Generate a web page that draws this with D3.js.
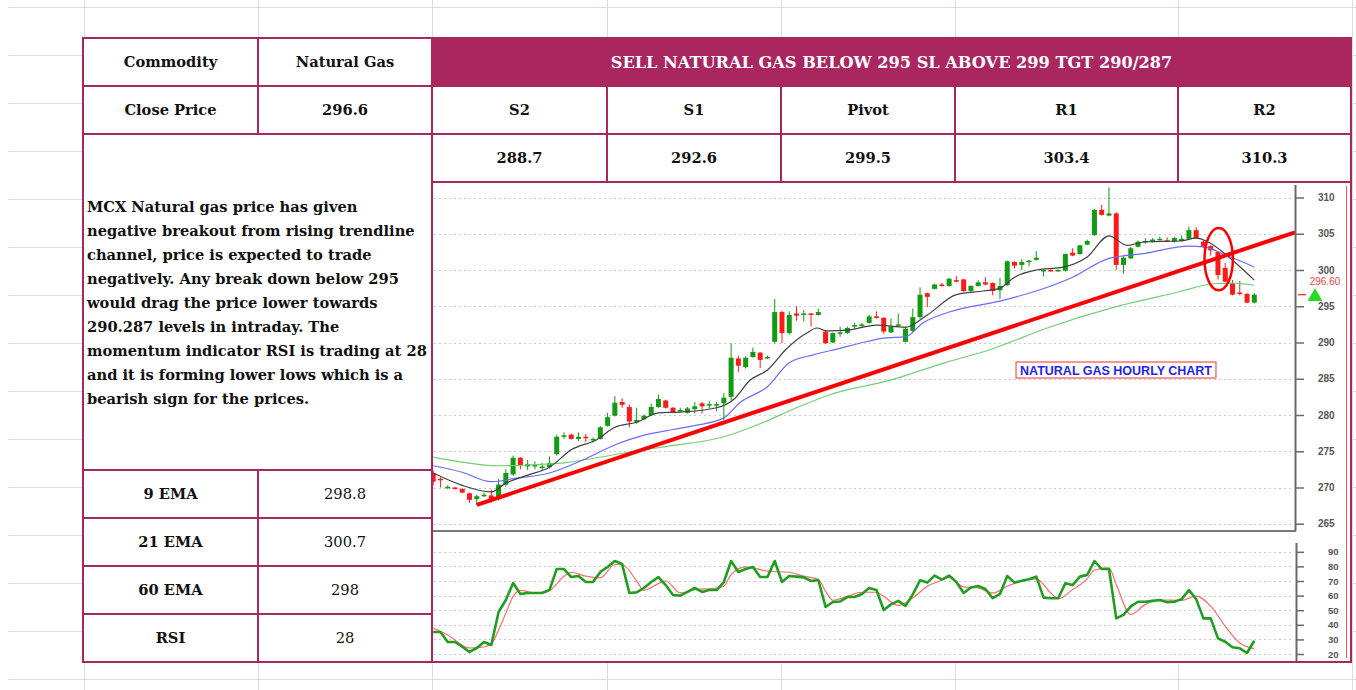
<!DOCTYPE html>
<html>
<head>
<meta charset="utf-8">
<script src="https://cdn.jsdelivr.net/npm/d3@7/dist/d3.min.js"></script>
<style>
  html, body { margin: 0; padding: 0; background: #fff; }
  svg { display: block; }
</style>
</head>
<body>
<div id="chart"></div>
<script>
/* ── table content ── */
const infoLabels   = ['Commodity', 'Close Price'];
const infoValues   = ['Natural Gas', '296.6'];
const headline     = 'SELL NATURAL GAS BELOW 295 SL ABOVE 299 TGT 290/287';
const levelNames   = ['S2', 'S1', 'Pivot', 'R1', 'R2'];
const levelValues  = ['288.7', '292.6', '299.5', '303.4', '310.3'];
const indicatorNames  = ['9 EMA', '21 EMA', '60 EMA', 'RSI'];
const indicatorValues = ['298.8', '300.7', '298', '28'];
const commentLines = [
  'MCX Natural gas price has given',
  'negative breakout from rising trendline',
  'channel, price is expected to trade',
  'negatively. Any break down below 295',
  'would drag the price lower towards',
  '290.287 levels in intraday. The',
  'momentum indicator RSI is trading at 28',
  'and it is forming lower lows which is a',
  'bearish sign for the prices.'
];

/* ── hourly candles ── */
const opens = [272.0,271.2,269.9,270.0,269.8,269.2,268.4,268.8,268.9,268.6,
  270.4,271.8,274.1,272.9,272.9,272.8,272.8,274.6,277.0,277.3,
  276.7,277.0,276.6,276.7,278.5,279.9,281.8,281.1,279.0,279.4,
  280.0,281.1,282.0,281.0,280.6,280.3,280.8,281.6,281.4,281.4,
  281.6,282.5,287.8,286.6,288.0,288.6,287.8,290.1,294.2,291.3,
  294.0,293.8,294.0,293.8,291.5,290.0,291.3,291.3,292.2,292.3,
  292.7,293.6,293.4,291.4,292.4,290.1,291.6,293.5,296.8,297.4,
  298.0,297.8,298.6,298.7,297.1,297.8,298.3,298.2,297.2,297.9,
  301.1,300.7,301.2,301.4,299.9,300.0,299.9,299.9,302.4,302.2,
  303.5,304.8,308.3,307.5,307.8,300.7,301.6,303.2,303.9,303.9,
  304.2,304.1,303.9,304.0,304.3,305.5,303.9,303.3,302.5,300.3,
  298.2,296.9,296.7,295.5];
const highs = [272.3,271.4,270.3,270.1,269.9,269.3,269.0,269.3,269.7,271.2,
  272.5,274.4,274.2,273.8,273.6,273.4,274.3,277.3,277.6,277.4,
  277.6,277.4,276.9,278.5,280.3,282.6,282.3,281.4,281.0,280.1,
  281.6,282.8,282.1,281.1,281.0,281.1,281.8,281.8,281.9,281.8,
  283.0,289.9,288.2,288.1,289.3,288.7,288.2,296.0,294.4,294.3,
  295.0,294.5,294.1,294.7,291.6,291.4,292.2,292.2,292.7,292.7,
  293.8,294.3,293.5,293.3,294.0,292.2,294.7,297.6,296.9,298.1,
  298.2,298.9,299.2,298.8,297.9,298.6,299.0,298.3,298.9,301.3,
  301.2,301.5,301.4,302.6,300.1,300.1,300.1,302.3,303.0,303.5,
  304.2,308.4,309.0,311.4,308.0,301.9,303.2,304.1,304.4,304.4,
  304.6,304.5,304.6,304.8,306.0,305.9,304.0,303.4,302.6,301.0,
  298.6,298.5,296.8,296.8];
const lows = [270.3,270.0,269.8,269.7,269.2,267.9,267.6,268.7,267.9,268.2,
  270.1,271.6,272.5,272.4,272.5,272.4,272.6,274.4,276.7,276.6,
  276.4,276.3,276.2,276.6,278.4,279.8,281.0,278.3,278.8,279.3,
  279.9,281.0,280.9,280.3,280.4,280.2,280.2,280.2,280.9,280.5,
  279.3,282.0,285.9,286.4,287.9,286.5,287.7,289.9,289.9,291.1,
  293.0,292.9,292.2,293.7,289.8,289.9,290.8,291.2,291.9,292.0,
  292.6,293.3,291.2,291.3,292.2,290.0,291.4,293.3,294.9,297.3,
  297.7,297.7,298.3,297.0,297.0,297.7,297.9,296.5,296.0,297.8,
  300.2,300.0,300.5,301.3,299.1,299.8,299.8,299.8,301.9,302.1,
  303.4,304.7,307.5,307.4,300.0,299.5,301.5,303.1,303.6,303.8,
  304.1,303.9,303.8,303.9,304.2,304.3,303.0,302.0,298.7,298.3,
  296.5,296.5,295.4,295.4];
const closes = [270.8,271.0,270.1,269.8,269.3,268.3,268.8,269.0,268.4,270.4,
  272.0,274.1,273.1,273.2,273.1,272.9,273.4,277.0,277.2,276.7,
  277.0,276.8,276.7,278.3,279.7,281.7,281.4,279.1,279.3,279.9,
  281.1,282.2,281.0,280.4,280.7,280.9,281.2,281.2,281.5,281.5,
  282.4,287.9,286.8,287.9,288.7,287.6,288.0,294.2,291.3,293.8,
  293.7,294.0,293.8,294.2,289.9,291.3,291.4,292.0,292.4,292.5,
  293.6,293.4,291.5,292.2,292.5,291.9,293.5,296.6,296.3,298.0,
  297.8,298.8,298.4,297.1,297.8,298.3,298.0,297.1,297.8,301.2,
  300.6,301.1,301.3,301.7,300.0,299.9,300.0,302.2,302.0,303.4,
  304.0,308.3,307.6,307.8,300.7,301.7,303.0,303.9,304.0,304.2,
  304.3,304.0,304.4,304.3,305.5,304.4,303.2,302.7,299.3,298.4,
  296.6,296.7,295.5,296.6];
const lastPrice = 296.60;

/* moving averages: [bar index, value] */
const ema9 = [[0,272.0],[4,270.3],[8,269.4],[10,270.6],[13,271.7],[16,272.8],[19,275.2],
  [22.5,276.6],[25,278.3],[28,279.0],[31,280.3],[34,280.4],[39,281.0],[41.3,282.1],
  [43.6,284.8],[46,286.2],[48.7,289.2],[51.4,291.3],[52.8,292.0],[54.2,291.6],[57,291.7],
  [61,292.4],[65,292.1],[68,293.8],[72,296.6],[75.7,297.1],[78,297.5],[80,299.0],[83,300.0],
  [86.7,300.4],[90,301.8],[93,304.7],[95.5,303.4],[98,303.9],[102.8,304.0],[105,304.4],
  [106.6,303.9],[109.6,301.7],[113,298.6]];
const ema21 = [[0,273.0],[4,272.1],[8,270.8],[11.5,271.3],[16,272.0],[20.6,273.8],[25.3,276.0],
  [28.9,277.2],[33,278.0],[36.3,278.6],[40,279.6],[42.2,281.7],[46,283.9],[49,287.2],
  [52.3,288.3],[56,289.2],[58.7,289.9],[62,290.6],[65,290.8],[67.4,292.7],[71,294.2],
  [78.4,295.8],[83,297.1],[88,299.0],[93,301.6],[98,302.3],[104,303.3],[106,303.2],
  [109,302.1],[113,300.4]];
const ema60 = [[0,274.2],[4,273.5],[8.8,273.0],[13.3,273.1],[18,273.4],[22.5,274.1],[27,274.9],
  [31.7,275.6],[40,277.0],[45.5,279.0],[50,281.0],[54.6,282.8],[62.9,284.8],[70.7,287.3],
  [76.6,289.0],[84.5,292.0],[93.5,294.8],[102.7,297.0],[107.3,298.1],[110,298.2],[113,297.9]];
const trendLine = [[6,267.6],[118.6,305.2]];
const breakZone = {i: 108.1, price: 301.5, di: 1.95, dp: 4.3};

/* RSI per bar and its signal line */
const rsi = [35.1,35.1,28.2,28.2,25.0,21.4,24.1,28.2,26.2,48.8,
  57.0,68.6,61.1,61.8,61.8,61.8,63.8,78.2,78.2,72.7,
  73.4,69.3,69.3,76.2,79.6,83.7,81.6,61.8,62.2,65.2,
  69.3,72.7,67.2,60.4,60.0,62.5,65.2,62.5,63.8,63.8,
  69.3,83.7,76.2,78.2,79.6,72.7,72.7,83.7,69.3,73.4,
  73.0,72.5,70.0,70.7,52.2,55.6,56.0,59.0,59.0,61.1,
  65.2,63.8,50.1,54.0,56.4,52.9,60.8,70.5,68.9,73.7,
  71.0,73.7,69.3,61.8,65.6,66.6,64.5,58.2,61.1,73.4,
  68.9,70.1,71.2,73.0,58.6,58.2,58.2,68.4,67.2,73.0,
  74.2,83.7,78.2,78.2,44.4,46.8,52.6,55.8,55.8,56.4,
  57.0,55.4,55.8,57.6,63.8,57.6,44.4,44.4,30.7,28.4,
  24.6,23.9,20.7,29.1];
const rsiSignal = [[0,37.8],[2,33],[5,24.1],[7,24.8],[8,27],[9,36.5],[10,48],[11,59.5],[12,63.6],
  [14,61.8],[16,63.6],[18,73.3],[19,76],[21,73.3],[23,72.2],[25,81.3],[26,81.3],[28,70],
  [29,63.6],[31,68.2],[32,70],[34,61.8],[36,64.1],[39,65.2],[40,66.4],[41,74.4],[43,79.7],
  [44,79],[46,76.7],[49,76],[51,73.3],[53,71],[54,63],[55,56.8],[57,59.5],[59,62.3],[61,62.3],
  [62,59.5],[64,53.3],[66,58.4],[68,66.4],[70,70.5],[71,72.5],[72,69],[73,66],[75,65.2],
  [77,61.8],[79,66.4],[81,70],[83,71.5],[85,61.8],[86,57.8],[88,64.1],[90,71.5],[91,77.5],
  [93,79],[94,67.6],[96,47],[98,54],[100,57],[103,56.7],[105,59.7],[107,52.8],[109,39],
  [111,27.6],[113,23.7]];

const priceTicks = [310,305,300,295,290,285,280,275,270,265];
const rsiTicks   = [90,80,70,60,50,40,30,20];
const chartLabel = 'NATURAL GAS HOURLY CHART';

/* ── layout ── */
const W = 1356, H = 690;
const MAG = '#a9265f';
const GREEN = '#129a12', RED = '#ff1a1a';
const SERIF = '"DejaVu Serif", serif';
const SANS  = '"Liberation Sans", Arial, sans-serif';
const sheetCols = [84, 258, 432, 607, 781, 955, 1178, 1352];
const sheetRows = d3.range(7, H, 48);
const colX = [83, 258, 432, 607, 781, 955, 1178, 1351];
const rowY = [38, 86, 134, 182];
const lowRowY = [470, 518, 566, 614, 662];
const P = {left: 432, right: 1295, top: 183, bottom: 531};
const R = {top: 533, bottom: 661};

const svg = d3.select('#chart').append('svg').attr('width', W).attr('height', H);
svg.append('rect').attr('width', W).attr('height', H).attr('fill', '#fff');

// faint spreadsheet grid
const sheet = svg.append('g').attr('stroke', '#d8dce5').attr('stroke-width', 1);
sheetRows.forEach(y => sheet.append('line').attr('x1', 8).attr('x2', W).attr('y1', y + .5).attr('y2', y + .5));
sheetCols.forEach(x => sheet.append('line').attr('x1', x + .5).attr('x2', x + .5).attr('y1', 0).attr('y2', H));

svg.append('rect').attr('x', colX[0]).attr('y', rowY[0])
   .attr('width', colX[7] - colX[0]).attr('height', 662 - rowY[0]).attr('fill', '#fff');

/* ── scales ── */
const x = d3.scaleLinear().domain([-0.3, 118.6]).range([431, 1295]);
const yP = d3.scaleLinear().domain([265, 310]).range([523.75, 197.5]);
const yR = d3.scaleLinear().domain([20, 90]).range([654, 551.8]);
const bw = 5;

const defs = svg.append('defs');
defs.append('clipPath').attr('id', 'clipP').append('rect')
    .attr('x', P.left + 1).attr('y', P.top).attr('width', P.right - P.left - 1).attr('height', P.bottom - P.top);
defs.append('clipPath').attr('id', 'clipR').append('rect')
    .attr('x', P.left + 1).attr('y', R.top).attr('width', P.right - P.left - 1).attr('height', R.bottom - R.top);

/* ── price pane ── */
svg.append('g').selectAll('line').data(priceTicks).join('line')
   .attr('x1', P.left + 2).attr('x2', P.right - 3)
   .attr('y1', d => Math.round(yP(d)) + .5).attr('y2', d => Math.round(yP(d)) + .5)
   .attr('stroke', '#c9c9c9').attr('stroke-dasharray', '2,3');

const pane = svg.append('g').attr('clip-path', 'url(#clipP)');
const candles = closes.map((c, i) => ({i, o: opens[i], h: highs[i], l: lows[i], c}));
const col = d => d.c >= d.o ? GREEN : RED;

pane.selectAll('line.wick').data(candles).join('line').attr('class', 'wick')
    .attr('x1', d => x(d.i)).attr('x2', d => x(d.i))
    .attr('y1', d => yP(d.h)).attr('y2', d => yP(d.l))
    .attr('stroke', col).attr('stroke-width', 1);
pane.selectAll('rect.body').data(candles).join('rect').attr('class', 'body')
    .attr('x', d => x(d.i) - bw / 2).attr('width', bw)
    .attr('y', d => yP(Math.max(d.o, d.c)))
    .attr('height', d => Math.max(1.5, Math.abs(yP(d.o) - yP(d.c))))
    .attr('fill', col);

const maLine = d3.line().x(d => x(d[0])).y(d => yP(d[1])).curve(d3.curveMonotoneX);
[[ema60, '#74cf74'], [ema21, '#6b6bff'], [ema9, '#404040']].forEach(([data, c]) => {
  pane.append('path').datum(data).attr('d', maLine)
      .attr('fill', 'none').attr('stroke', c).attr('stroke-width', 1.2);
});

pane.append('path').datum(trendLine)
    .attr('d', d3.line().x(d => x(d[0])).y(d => yP(d[1])))
    .attr('stroke', '#ff0000').attr('stroke-width', 4).attr('fill', 'none');

pane.append('ellipse')
    .attr('cx', x(breakZone.i)).attr('cy', yP(breakZone.price))
    .attr('rx', x(breakZone.i + breakZone.di) - x(breakZone.i))
    .attr('ry', yP(breakZone.price - breakZone.dp) - yP(breakZone.price))
    .attr('fill', 'none').attr('stroke', '#ff0000').attr('stroke-width', 2.5);

// chart caption
const cap = svg.append('g').attr('transform', 'translate(1116,370)');
const capText = cap.append('text').attr('text-anchor', 'middle').attr('dy', '0.36em')
    .attr('font-family', SANS).attr('font-weight', 'bold').attr('font-size', 12.5)
    .attr('fill', '#2525f0').text(chartLabel);
const cw = capText.node().getComputedTextLength();
cap.insert('rect', 'text').attr('x', -cw / 2 - 4).attr('y', -8).attr('width', cw + 8).attr('height', 16)
   .attr('fill', '#fff').attr('stroke', '#ff5050').attr('stroke-width', 1.2);

// pane frame + price axis
svg.append('line').attr('x1', P.left).attr('x2', P.right + 1).attr('y1', P.bottom).attr('y2', P.bottom)
   .attr('stroke', '#7a7a7a').attr('stroke-width', 2);
svg.append('line').attr('x1', P.right + .5).attr('x2', P.right + .5).attr('y1', P.top + 2).attr('y2', P.bottom)
   .attr('stroke', '#6a6a6a').attr('stroke-width', 2);

const axP = svg.append('g').attr('transform', `translate(${P.right},0)`)
   .call(d3.axisRight(yP).tickValues(priceTicks).tickSize(9).tickPadding(14));
axP.select('.domain').remove();
axP.selectAll('line').attr('stroke', '#6a6a6a').attr('stroke-width', 1.5);
axP.selectAll('text').attr('font-family', SANS).attr('font-weight', 'bold')
   .attr('font-size', 10).attr('fill', '#555');

// last price marker
svg.append('line').attr('x1', P.right + 3).attr('x2', P.right + 11)
   .attr('y1', yP(lastPrice)).attr('y2', yP(lastPrice)).attr('stroke', '#ff4040').attr('stroke-width', 1.5);
svg.append('text').attr('x', 1325).attr('y', yP(lastPrice) - 10).attr('text-anchor', 'middle')
   .attr('font-family', SANS).attr('font-size', 10).attr('fill', '#ff4040').text(lastPrice.toFixed(2));
svg.append('path').attr('d', d3.symbol(d3.symbolTriangle, 95)())
   .attr('transform', `translate(1315,${yP(lastPrice) + 2})`).attr('fill', '#22dd22');

/* ── RSI pane ── */
svg.append('g').selectAll('line').data(rsiTicks).join('line')
   .attr('x1', P.left + 2).attr('x2', P.right - 3)
   .attr('y1', d => Math.round(yR(d)) + .5).attr('y2', d => Math.round(yR(d)) + .5)
   .attr('stroke', '#c9c9c9').attr('stroke-dasharray', '2,3');

const rpane = svg.append('g').attr('clip-path', 'url(#clipR)');
rpane.append('path').datum(rsiSignal)
     .attr('d', d3.line().x(d => x(d[0])).y(d => yR(d[1])).curve(d3.curveMonotoneX))
     .attr('fill', 'none').attr('stroke', '#ff6a6a').attr('stroke-width', 1.2);
rpane.append('path').datum(rsi)
     .attr('d', d3.line().x((d, i) => x(i)).y(d => yR(d)))
     .attr('fill', 'none').attr('stroke', '#1f9e1f').attr('stroke-width', 2.6)
     .attr('stroke-linejoin', 'round');

svg.append('line').attr('x1', P.right + 1.5).attr('x2', P.right + 1.5).attr('y1', 543).attr('y2', R.bottom)
   .attr('stroke', '#6a6a6a').attr('stroke-width', 2);
const axR = svg.append('g').attr('transform', `translate(${P.right + 1},0)`)
   .call(d3.axisRight(yR).tickValues(rsiTicks).tickSize(8).tickPadding(24));
axR.select('.domain').remove();
axR.selectAll('line').attr('stroke', '#6a6a6a').attr('stroke-width', 1.5);
axR.selectAll('text').attr('font-family', SANS).attr('font-weight', 'bold')
   .attr('font-size', 9.5).attr('fill', '#555');

// red marker line at far right
svg.append('line').attr('x1', 1346.5).attr('x2', 1346.5).attr('y1', 186).attr('y2', 658)
   .attr('stroke', '#ff5555').attr('stroke-width', 1);

/* ── table ── */
function fitSize(text, weight, target) {
  const t = svg.append('text').attr('font-family', SERIF).attr('font-weight', weight)
               .attr('font-size', 20).text(text);
  const w = t.node().getComputedTextLength();
  t.remove();
  return 20 * target / w;
}
const bodySize = fitSize(commentLines[1], 'bold', 328);

svg.append('rect').attr('x', colX[2]).attr('y', rowY[0])
   .attr('width', colX[7] - colX[2]).attr('height', rowY[1] - rowY[0]).attr('fill', MAG);
svg.append('text').attr('x', (colX[2] + colX[7]) / 2).attr('y', 62).attr('dy', '0.35em')
   .attr('text-anchor', 'middle').attr('font-family', SERIF).attr('font-weight', 'bold')
   .attr('font-size', fitSize(headline, 'bold', 562)).attr('fill', '#fff').text(headline);

function cell(cx, cy, txt, weight) {
  svg.append('text').attr('x', cx).attr('y', cy).attr('dy', '0.35em').attr('text-anchor', 'middle')
     .attr('font-family', SERIF).attr('font-weight', weight).attr('font-size', bodySize)
     .attr('fill', '#111').text(txt);
}
infoLabels.forEach((t, r) => {
  const cy = (rowY[r] + rowY[r + 1]) / 2;
  cell((colX[0] + colX[1]) / 2, cy, t, 'bold');
  cell((colX[1] + colX[2]) / 2, cy, infoValues[r], 'bold');
});
levelNames.forEach((t, c) => {
  const cx = (colX[c + 2] + colX[c + 3]) / 2;
  cell(cx, (rowY[1] + rowY[2]) / 2, t, 'bold');
  cell(cx, (rowY[2] + rowY[3]) / 2, levelValues[c], 'bold');
});
indicatorNames.forEach((t, r) => {
  const cy = (lowRowY[r] + lowRowY[r + 1]) / 2;
  cell((colX[0] + colX[1]) / 2, cy, t, 'bold');
  cell((colX[1] + colX[2]) / 2, cy, indicatorValues[r], 'normal');
});

const para = svg.append('text').attr('font-family', SERIF).attr('font-weight', 'bold')
   .attr('font-size', bodySize).attr('fill', '#111');
commentLines.forEach((l, i) => para.append('tspan').attr('x', 87).attr('y', 212 + i * 24).text(l));

// table borders
const b = svg.append('g').attr('stroke', MAG).attr('stroke-width', 2).attr('fill', 'none');
const seg = (x1, y1, x2, y2) => b.append('line').attr('x1', x1).attr('y1', y1).attr('x2', x2).attr('y2', y2);
b.append('rect').attr('x', colX[0]).attr('y', rowY[0]).attr('width', colX[7] - colX[0]).attr('height', 662 - rowY[0]);
seg(colX[0], rowY[1], colX[7], rowY[1]);
seg(colX[0], rowY[2], colX[7], rowY[2]);
seg(colX[2], rowY[3], colX[7], rowY[3]);
seg(colX[1], rowY[0], colX[1], rowY[2]);
seg(colX[2], rowY[0], colX[2], 662);
for (let c = 3; c < 7; c++) seg(colX[c], rowY[1], colX[c], rowY[3]);
lowRowY.slice(0, 4).forEach(y => seg(colX[0], y, colX[2], y));
seg(colX[1], lowRowY[0], colX[1], 662);
</script>
</body>
</html>
